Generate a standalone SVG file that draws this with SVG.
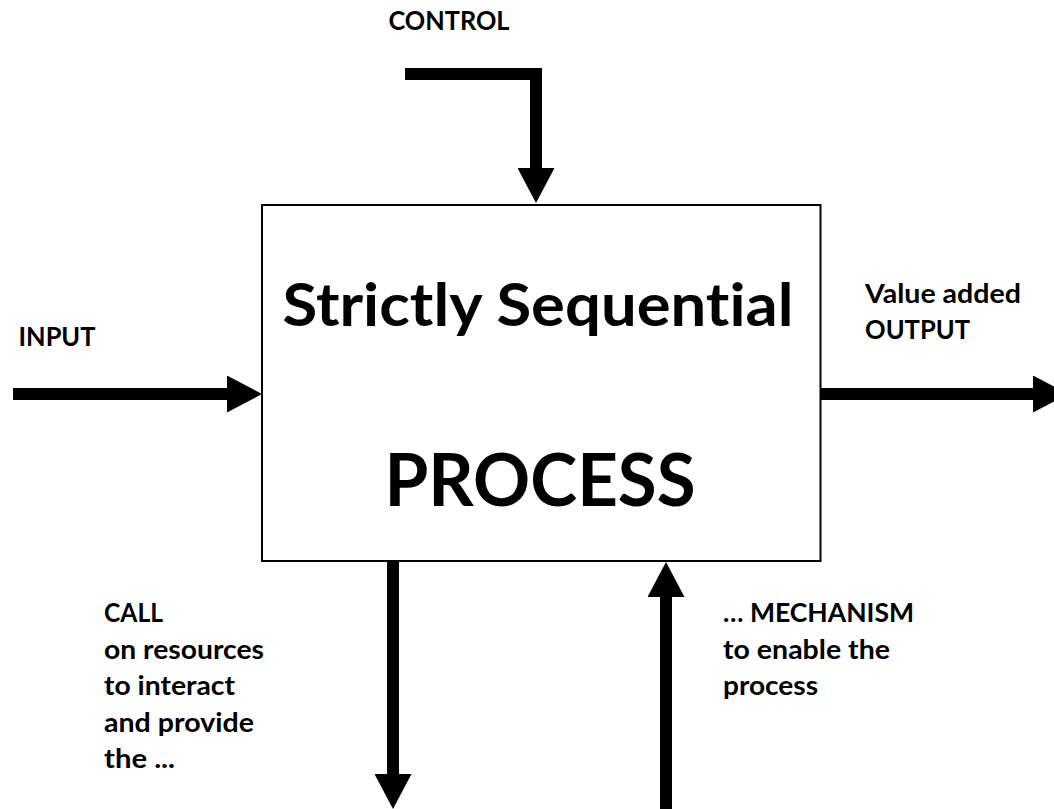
<svg xmlns="http://www.w3.org/2000/svg" width="1054" height="809" viewBox="0 0 1054 809">
  <style>
    .lbl { font-family: Lato, "Open Sans", "Liberation Sans", sans-serif; font-weight: bold; font-size: 26px; fill: #000; font-variant-ligatures: none; }
    .big { font-family: Lato, "Open Sans", "Liberation Sans", sans-serif; font-weight: bold; fill: #000; font-variant-ligatures: none; }
    .conn { fill: none; stroke: #000; stroke-width: 12; stroke-linejoin: miter; stroke-linecap: butt; }
    .box { fill: #fff; stroke: #000; stroke-width: 2; }
  </style>
  <defs>
    <marker id="head" markerUnits="userSpaceOnUse" markerWidth="36" markerHeight="37" refX="0" refY="18.5" orient="auto">
      <path d="M0,0 L35,18.5 L0,37 Z" fill="#000"/>
    </marker>
  </defs>
  <rect width="1054" height="809" fill="#fff"/>

  <g id="process">
    <rect class="box" x="262" y="205" width="558.5" height="356"/>
    <text class="big" x="282.5" y="326" font-size="59" textLength="511" lengthAdjust="spacingAndGlyphs">Strictly Sequential</text>
    <text class="big" x="384.5" y="505.5" font-size="72" textLength="311" lengthAdjust="spacingAndGlyphs">PROCESS</text>
  </g>

  <g id="connectors">
    <path id="control-arrow" class="conn" d="M405,74 H536 V168" marker-end="url(#head)"/>
    <path id="input-arrow" class="conn" d="M13,394 H227" marker-end="url(#head)"/>
    <path id="output-arrow" class="conn" d="M821,394 H1033" marker-end="url(#head)"/>
    <path id="call-arrow" class="conn" d="M393,561 V774" marker-end="url(#head)"/>
    <path id="mechanism-arrow" class="conn" d="M666,809 V597" marker-end="url(#head)"/>
  </g>

  <g id="label-control">
    <text class="lbl" x="388.5" y="29.5" textLength="121" lengthAdjust="spacingAndGlyphs">CONTROL</text>
  </g>
  <g id="label-input">
    <text class="lbl" x="18.5" y="345.5" textLength="77" lengthAdjust="spacingAndGlyphs">INPUT</text>
  </g>
  <g id="label-output">
    <text class="lbl" x="865" y="303" textLength="156" lengthAdjust="spacingAndGlyphs">Value added</text>
    <text class="lbl" x="865" y="338.5" textLength="105" lengthAdjust="spacingAndGlyphs">OUTPUT</text>
  </g>
  <g id="label-call">
    <text class="lbl" x="104" y="622" textLength="59" lengthAdjust="spacingAndGlyphs">CALL</text>
    <text class="lbl" x="104" y="658.5" textLength="160" lengthAdjust="spacingAndGlyphs">on resources</text>
    <text class="lbl" x="104" y="695" textLength="131" lengthAdjust="spacingAndGlyphs">to interact</text>
    <text class="lbl" x="104" y="731.5" textLength="150" lengthAdjust="spacingAndGlyphs">and provide</text>
    <text class="lbl" x="104" y="768" textLength="71" lengthAdjust="spacingAndGlyphs">the ...</text>
  </g>
  <g id="label-mechanism">
    <text class="lbl" x="723" y="622" textLength="191" lengthAdjust="spacingAndGlyphs">… MECHANISM</text>
    <text class="lbl" x="723" y="658.5" textLength="167" lengthAdjust="spacingAndGlyphs">to enable the</text>
    <text class="lbl" x="723" y="695" textLength="95" lengthAdjust="spacingAndGlyphs">process</text>
  </g>
</svg>
